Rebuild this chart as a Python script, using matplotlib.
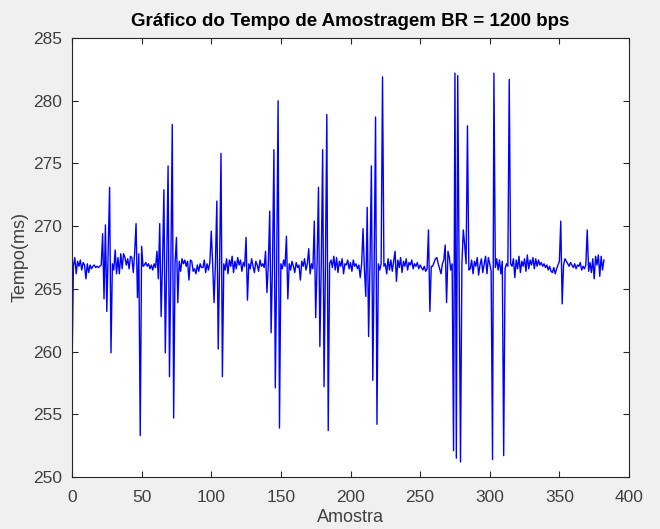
import numpy as np
import matplotlib
matplotlib.use("Agg")
import matplotlib.pyplot as plt

plt.rcParams['font.family'] = ['Liberation Sans', 'DejaVu Sans']

titulo = "Gráfico do Tempo de Amostragem BR = 1200 bps"
x_label = "Amostra"
y_label = "Tempo(ms)"
x_ticks = [0, 50, 100, 150, 200, 250, 300, 350, 400]
y_ticks = [250, 255, 260, 265, 270, 275, 280, 285]

tempo_ms = [
    258.2, 266.8, 267.5,
    266.2, 267.2, 266.8, 267.3, 266.5, 267.1, 266.9, 265.8, 267.0, 266.3,
    266.9, 266.6, 266.8, 266.9, 266.7, 266.8, 266.7, 266.8, 266.9,
    269.4, 264.2, 270.1, 263.2, 268.0, 273.1, 259.9, 267.0,
    266.5, 268.1, 266.2, 267.5, 266.2, 267.8, 266.6, 267.8, 267.5, 266.9,
    267.4, 266.6, 267.6, 267.5, 266.3, 267.9,
    270.2, 264.3, 267.8, 253.3, 268.4, 266.8,
    266.9, 267.1, 266.8, 267.0, 266.6, 266.9, 266.5, 267.0, 266.7, 268.0, 265.8,
    270.2, 262.8, 267.0, 272.9, 259.9, 267.0, 274.8, 258.0, 267.0, 278.1,
    254.7, 267.0, 269.1, 263.9,
    267.2, 266.4, 267.4, 267.0, 267.3, 266.8, 267.2, 265.7, 267.3, 267.2,
    266.4, 266.6, 266.2, 266.9, 266.4, 267.0, 266.7, 266.7, 267.3, 266.3,
    267.0, 266.5, 267.1,
    269.6, 267.0, 263.9, 267.0, 272.0, 260.2, 267.0, 275.8, 258.0, 267.0,
    266.5, 267.4, 266.2, 267.3, 266.8, 267.6, 266.3, 267.2, 266.6, 267.5,
    266.9, 267.3, 266.4, 267.1, 266.8,
    269.1, 264.1,
    267.0, 266.6, 267.4, 266.8, 266.3, 267.2, 266.9, 266.4, 267.3, 266.8,
    267.0, 266.7,
    268.0, 264.7, 267.0, 271.2, 261.5, 267.0, 276.1, 257.1, 267.0, 280.0,
    253.9, 267.0,
    266.6, 267.3, 266.8,
    269.2, 264.2,
    267.0, 266.5, 267.2, 266.8, 266.3, 267.1, 266.7, 266.9, 265.7, 267.2,
    266.8, 267.4, 266.5, 267.0, 268.2, 266.2, 267.0, 266.6,
    270.4, 262.7, 267.0, 273.1, 260.4, 267.0, 276.1, 257.2, 267.0, 278.9,
    253.7, 267.0,
    267.3, 266.7, 267.6, 266.5, 267.5, 266.3, 267.2, 266.8, 267.4, 266.2,
    267.0, 266.9, 267.3, 266.6, 267.1, 266.4, 267.3, 266.8, 267.0, 266.6,
    266.9, 265.9, 267.0,
    269.8, 266.5, 264.4, 271.5, 261.2, 267.0, 274.8, 257.7, 267.0, 278.7,
    254.2, 267.0, 266.5, 267.0, 281.9, 266.8,
    267.0, 266.2, 267.4, 266.5, 267.3, 266.4, 267.2, 268.0, 265.6, 267.3,
    266.7, 267.5, 266.3, 267.2, 266.8, 267.4, 266.5, 267.1, 266.9, 267.3,
    266.6, 267.0, 266.8, 267.1, 266.6, 266.9, 266.7, 266.5, 266.8, 266.4,
    266.6,
    269.7, 263.2, 266.8,
    266.8, 267.1, 267.4, 267.5, 267.0, 266.6, 266.2, 267.0, 267.3,
    268.5, 263.9, 268.0, 267.5, 266.5, 267.0, 252.1, 282.2, 251.5, 282.0,
    266.0, 251.2, 267.0, 269.7, 268.5, 267.0, 278.0, 266.5,
    266.6, 267.3, 266.2, 267.2, 266.8, 267.5, 266.1, 266.9, 267.4, 266.3,
    267.0, 267.6, 266.2, 267.5, 267.0, 266.4,
    251.4, 282.2, 266.7, 267.4, 266.5, 267.3, 266.2, 267.2, 251.7, 266.6,
    267.0, 266.8, 281.7, 267.0,
    266.8, 267.4, 265.9, 267.3, 266.6, 267.6, 266.3, 267.2, 266.8, 267.4,
    266.4, 267.7, 266.6, 267.3, 266.9, 267.5, 266.6, 267.4, 266.8, 267.3,
    266.9, 267.1, 266.8, 267.0, 266.7, 266.9, 266.5, 266.8, 266.4, 266.3,
    266.7, 266.2, 266.6, 266.9, 267.2,
    270.4, 263.8, 266.9,
    267.4, 267.2, 267.0, 266.8, 267.1, 266.9, 266.7, 267.0, 266.6, 266.9,
    266.8, 267.1, 266.5, 266.8, 266.6, 266.9,
    269.7, 266.4, 267.1, 266.3, 267.4, 265.8, 267.6, 266.9, 267.7, 266.0,
    267.6, 266.5, 267.3,
]
amostra = np.arange(len(tempo_ms))

fig = plt.figure(figsize=(6.6, 5.29), dpi=100, facecolor='#f0f0f0')
ax = fig.add_axes([72/660, 52/529, (629-72)/660, (477-38)/529])
ax.set_facecolor('white')
ax.plot(amostra, tempo_ms, color=(0, 0, 1), linewidth=1.0)

ax.set_xlim(0, 400)
ax.set_ylim(250, 285)
ax.set_xticks(x_ticks)
ax.set_yticks(y_ticks)
dark = '#262626'
for s in ax.spines.values():
    s.set_color(dark)
    s.set_linewidth(0.8)
ax.tick_params(direction='in', top=True, right=True, length=4, width=0.8,
               colors=dark, labelsize=12.5, labelcolor='#404040')
ax.tick_params(axis='x', pad=9)
ax.tick_params(axis='y', pad=7)
ax.set_title(titulo, fontsize=13.5, fontweight='bold', color='black', pad=9)
ax.set_xlabel(x_label, fontsize=13, color='#404040', labelpad=3)
ax.set_ylabel(y_label, fontsize=13, color='#404040', labelpad=3)

fig.savefig('out.png', dpi=100, facecolor=fig.get_facecolor())
